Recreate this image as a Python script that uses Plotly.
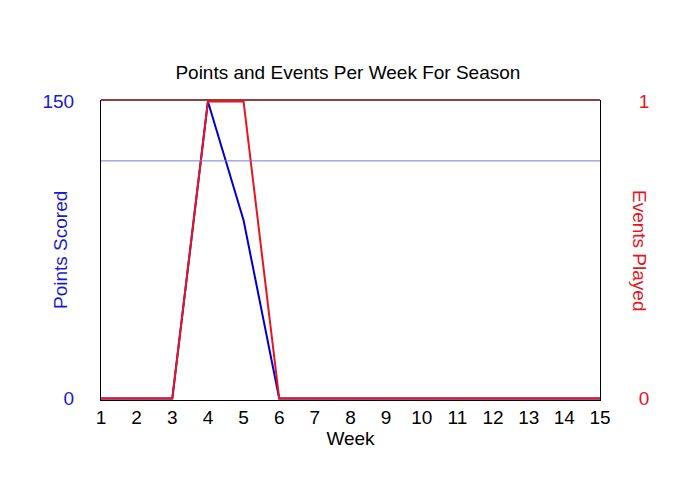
import plotly.graph_objects as go

# Data
weeks = list(range(1, 16))
points_scored = [0, 0, 0, 150, 90, 0, 0, 0, 0, 0, 0, 0, 0, 0, 0]
events_played = [0, 0, 0, 1, 1, 0, 0, 0, 0, 0, 0, 0, 0, 0, 0]
points_target = 120

fig = go.Figure()
fig.add_trace(go.Scatter(x=weeks, y=points_scored, mode="lines", name="Points Scored",
                         line=dict(color="#0000cc", width=2)))
fig.add_trace(go.Scatter(x=weeks, y=events_played, mode="lines", name="Events Played",
                         yaxis="y2", line=dict(color="#e8141e", width=2)))

fig.add_shape(type="line", xref="paper", x0=0, x1=1, yref="y", y0=points_target, y1=points_target,
              line=dict(color="#7a7ad6", width=1))
fig.add_shape(type="line", xref="paper", x0=0, x1=1, yref="paper", y0=1, y1=1,
              line=dict(color="#6b0000", width=1.5), layer="below")

fig.update_layout(
    width=700, height=500,
    margin=dict(l=101, r=100, t=100, b=100, autoexpand=False),
    paper_bgcolor="white", plot_bgcolor="white",
    font=dict(family="Liberation Sans, Arial", size=19, color="black"),
    showlegend=False,
    title=dict(text="Points and Events Per Week For Season", x=0.497, xanchor="center",
               y=0.856, yanchor="middle", font=dict(size=19, color="black")),
    xaxis=dict(range=[1, 15], tickmode="array", tickvals=weeks, showgrid=False, zeroline=False,
               showline=True, linecolor="black", linewidth=1, automargin=False,
               tickfont=dict(size=19),
               title=dict(text="Week", standoff=0, font=dict(size=19))),
    yaxis=dict(range=[-0.75, 150.75], tickvals=[0, 150], showgrid=False, zeroline=False,
               showline=True, linecolor="black", linewidth=1, ticklabelstandoff=22,
               automargin=False, tickfont=dict(color="#1a1acc", size=19)),
    yaxis2=dict(range=[-0.005, 1.005], tickvals=[0, 1], overlaying="y", side="right",
                showgrid=False, zeroline=False, showline=True, linecolor="black", linewidth=1,
                automargin=False, ticklabelstandoff=34, tickfont=dict(color="#e8141e", size=19)),
)

fig.add_annotation(text="Points Scored", xref="paper", yref="paper", x=0.0, xshift=-41,
                   xanchor="center", y=0.5, textangle=-90, showarrow=False,
                   font=dict(color="#1a1acc", size=19))
fig.add_annotation(text="Events Played", xref="paper", yref="paper", x=1.0, xshift=40,
                   xanchor="center", y=0.5, textangle=90, showarrow=False,
                   font=dict(color="#e8141e", size=19))

fig.write_html("out.html", config={"displayModeBar": False},
               post_script="document.body.style.margin='0';")
